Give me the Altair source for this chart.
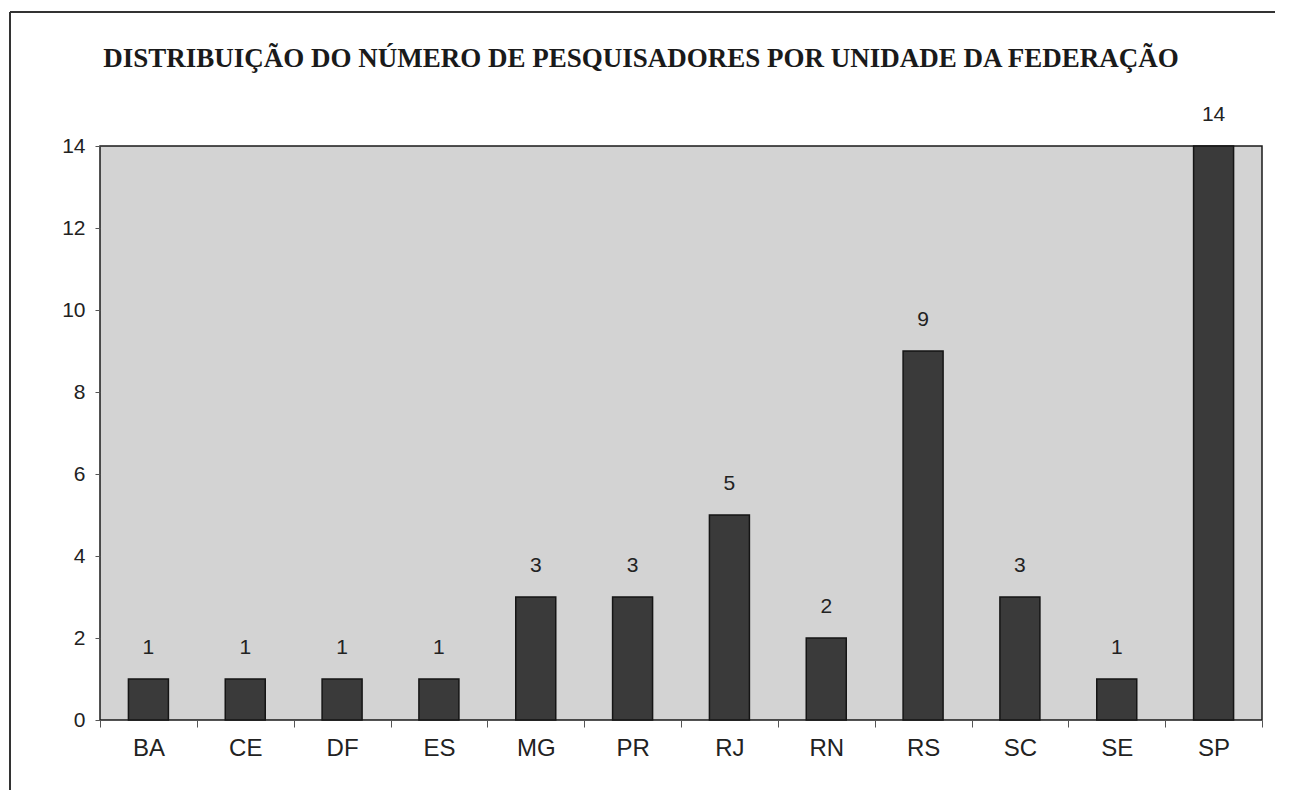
import altair as alt
import pandas as pd

estados = ["BA", "CE", "DF", "ES", "MG", "PR", "RJ", "RN", "RS", "SC", "SE", "SP"]
pesquisadores = [1, 1, 1, 1, 3, 3, 5, 2, 9, 3, 1, 14]
y_ticks = [0, 2, 4, 6, 8, 10, 12, 14]
titulo = "DISTRIBUIÇÃO DO NÚMERO DE PESQUISADORES POR UNIDADE DA FEDERAÇÃO"

df = pd.DataFrame({"uf": estados, "n": pesquisadores})

x_enc = alt.X("uf:N", sort=estados, title=None,
              scale=alt.Scale(paddingInner=0, paddingOuter=0),
              axis=alt.Axis(labelAngle=0, tickBand="extent", labelFont="Liberation Sans",
                            labelFontSize=24, labelColor="#222222", labelPadding=9,
                            tickColor="#555555", tickSize=7, domain=False))
y_enc = alt.Y("n:Q", title=None,
              scale=alt.Scale(domain=[0, 14], nice=False),
              axis=alt.Axis(values=y_ticks, grid=False, domain=False,
                            labelFont="Liberation Sans", labelFontSize=21,
                            labelColor="#222222", labelPadding=10,
                            tickColor="#555555", tickSize=5))

bars = alt.Chart(df).mark_bar(size=40, color="#3a3a3a", stroke="#151515",
                              strokeWidth=1.5).encode(x=x_enc, y=y_enc)

labels = alt.Chart(df).mark_text(font="Liberation Sans", fontSize=21, color="#222222",
                                 baseline="middle", dy=-31, clip=False).encode(
    x=alt.X("uf:N", sort=estados), y="n:Q", text="n:Q")

frame = alt.Chart(df).mark_rule(color="#333333", strokeWidth=2, clip=False).encode(
    x=alt.value(-90), x2=alt.value(1175), y=alt.value(-134))
frame_left = alt.Chart(df).mark_rule(color="#333333", strokeWidth=2, clip=False).encode(
    x=alt.value(-90), y=alt.value(-134), y2=alt.value(652))

chart = alt.layer(bars, labels, frame, frame_left).properties(
    width=1162, height=574,
    autosize=alt.AutoSizeParams(type="none"),
    padding={"left": 92, "top": 138, "right": 20, "bottom": 70},
    title=alt.TitleParams(titulo, font="Liberation Serif", fontSize=27, fontWeight="bold",
                          color="#1a1a1a", anchor="middle", dx=-40, offset=-83,
                          frame="group", baseline="alphabetic"),
).configure(background="white").configure_view(fill="#d3d3d3", stroke="#1a1a1a",
                                                strokeWidth=1.5)

chart.save("out.html", embed_options={"renderer": "svg", "actions": False})
